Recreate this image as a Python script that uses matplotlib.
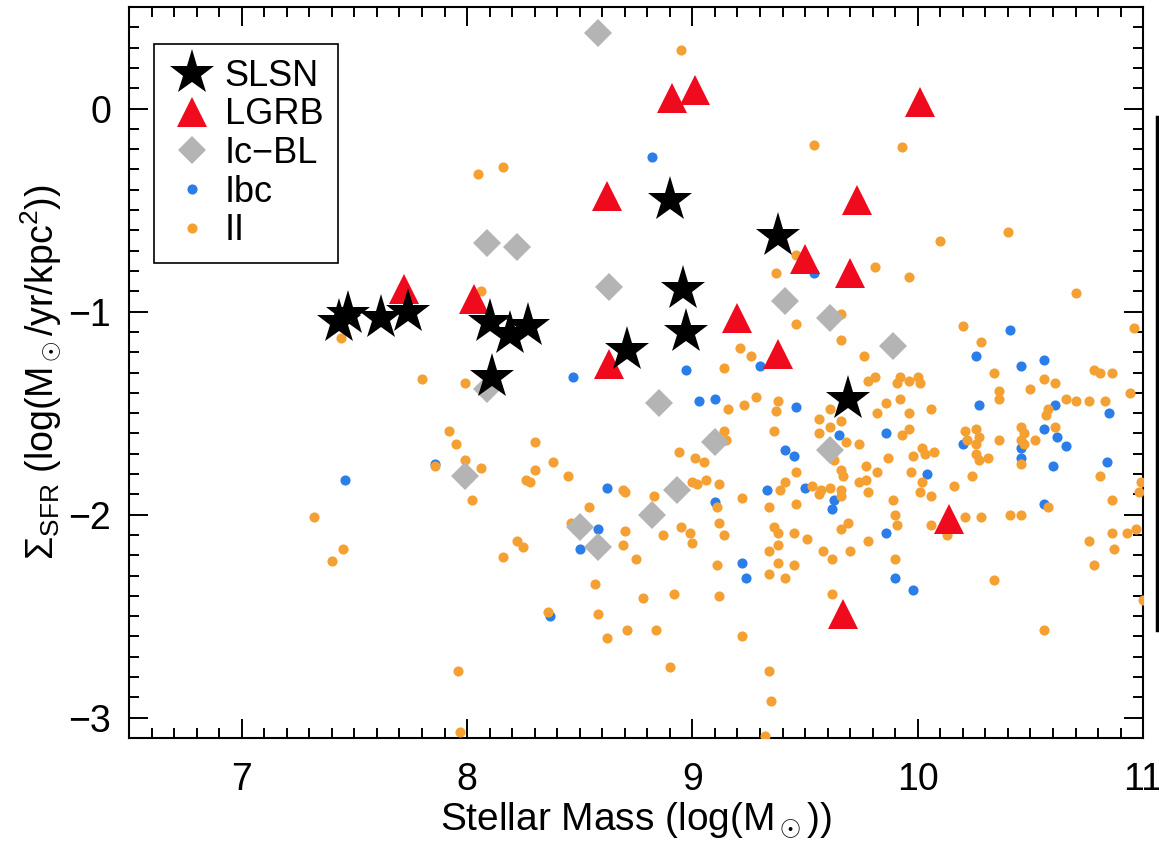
import matplotlib
matplotlib.use("Agg")
import matplotlib.pyplot as plt
from matplotlib.lines import Line2D

plt.rcParams['font.family'] = ['Liberation Sans', 'DejaVu Sans']
plt.rcParams['mathtext.fontset'] = 'custom'
plt.rcParams['mathtext.rm'] = 'Liberation Sans'
plt.rcParams['mathtext.it'] = 'Liberation Sans:italic'

# SLSN hosts
slsn_mass = [7.47, 7.43, 7.62, 7.74, 8.10, 8.19, 8.27, 8.11, 8.71, 8.90, 8.96, 8.97, 9.38, 9.69]
slsn_sfr = [-1.01, -1.05, -1.03, -1.00, -1.05, -1.11, -1.07, -1.32, -1.19, -0.45, -0.89, -1.10, -0.63, -1.43]

# LGRB hosts
lgrb_mass = [7.72, 8.03, 8.62, 8.63, 8.91, 9.01, 9.20, 9.38, 9.50, 9.70, 9.73, 10.01, 10.14, 9.67]
lgrb_sfr = [-0.89, -0.94, -0.43, -1.26, 0.05, 0.09, -1.03, -1.21, -0.74, -0.81, -0.45, 0.03, -2.02, -2.49]

# Ic-BL hosts
icbl_mass = [8.58, 8.09, 8.22, 8.63, 9.41, 9.61, 9.89, 8.09, 8.85, 9.10, 9.61, 7.99, 8.93, 8.82, 8.50, 8.58]
icbl_sfr = [0.37, -0.66, -0.68, -0.88, -0.95, -1.03, -1.17, -1.38, -1.45, -1.64, -1.68, -1.81, -1.88, -2.00, -2.06, -2.16]

# Ibc hosts
ibc_mass = [7.86, 7.46, 8.47, 8.97, 9.30, 9.03, 9.10, 9.46, 9.65, 9.86, 9.41, 9.45,
            9.33, 9.50, 9.63, 9.62, 8.62, 9.10, 8.58, 8.50, 9.86, 9.90, 9.22, 9.24,
            10.41, 10.26, 10.46, 10.56, 10.27, 10.61, 10.85, 10.20, 10.46, 10.56, 10.62, 10.66,
            10.46, 10.60, 10.84, 10.04, 10.56, 9.98, 8.82, 9.54, 8.37]
ibc_sfr = [-1.75, -1.83, -1.32, -1.29, -1.27, -1.44, -1.43, -1.47, -1.61, -1.60, -1.68, -1.71,
           -1.88, -1.87, -1.93, -1.97, -1.87, -1.94, -2.07, -2.17, -2.09, -2.31, -2.24, -2.31,
           -1.09, -1.22, -1.27, -1.24, -1.46, -1.46, -1.50, -1.65, -1.67, -1.58, -1.62, -1.66,
           -1.72, -1.76, -1.74, -1.80, -1.95, -2.37, -0.24, -0.81, -2.50]

# type II hosts
ii_mass = [7.44, 7.80, 7.99, 8.06, 7.92, 7.95, 7.99, 7.86, 8.06, 8.02, 8.26, 7.32,
           9.46, 9.66, 9.66, 9.21, 9.26, 9.14, 9.76, 9.78, 9.81, 9.91, 9.28, 9.23,
           9.16, 9.38, 9.37, 9.61, 9.86, 9.82, 9.56, 9.61, 9.66, 9.56, 9.68, 9.74,
           9.36, 9.14, 9.15, 8.30, 8.94, 9.01, 9.05, 9.87, 9.46, 9.63, 9.66, 9.67,
           9.77, 9.82, 9.74, 9.77, 8.38, 8.30, 8.28, 8.45, 9.00, 9.02, 9.06, 9.12,
           9.41, 9.39, 9.53, 9.56, 9.57, 9.61, 9.66, 9.66, 9.78, 9.69, 9.66, 9.89,
           9.90, 9.91, 8.69, 8.70, 8.83, 9.11, 9.22, 9.34, 9.46, 8.54, 9.12, 8.95,
           8.99, 9.00, 9.14, 8.87, 8.70, 8.69, 8.46, 8.22, 8.25, 8.16, 8.75, 9.36,
           9.38, 9.45, 9.51, 9.38, 9.34, 9.58, 9.62, 9.70, 9.78, 9.90, 9.11, 9.34,
           9.38, 9.41, 9.45, 8.57, 9.62, 8.92, 9.12, 8.78,
           10.20, 10.28, 10.34, 10.56, 10.61, 10.50, 10.36, 10.36, 10.58, 10.57, 10.66, 10.70,
           10.76, 10.83, 10.78, 10.81, 10.86, 10.96, 10.94, 9.92, 9.96, 10.00, 10.01, 9.92,
           9.96, 10.06, 9.93, 9.96, 10.21, 10.26, 10.22, 10.27, 10.26, 10.36, 10.46, 10.47,
           10.46, 10.52, 10.47, 10.61, 10.02, 10.03, 10.07, 9.98, 10.26, 10.27, 10.31, 10.46,
           9.97, 10.24, 10.81, 10.02, 10.99, 10.01, 10.06, 10.16, 10.98, 10.86, 10.58, 10.06,
           10.21, 10.28, 10.41, 10.46, 10.13, 10.76, 10.86, 10.93, 10.97, 10.87, 10.78, 10.34,
           10.56, 11.00, 8.95, 9.54, 9.93, 9.46, 9.37, 9.81, 9.96, 10.10, 10.40, 10.70,
           8.05, 8.16, 7.45, 7.40, 7.96, 7.97, 9.35, 9.32,
           8.36, 8.58, 8.62, 8.71, 8.84, 8.90, 9.22, 9.34]
ii_sfr = [-1.13, -1.33, -1.35, -0.90, -1.59, -1.65, -1.73, -1.76, -1.77, -1.93, -1.83, -2.01,
          -1.06, -1.01, -1.14, -1.18, -1.22, -1.28, -1.22, -1.34, -1.32, -1.35, -1.42, -1.46,
          -1.48, -1.44, -1.49, -1.48, -1.45, -1.50, -1.53, -1.57, -1.54, -1.60, -1.64, -1.65,
          -1.59, -1.59, -1.63, -1.64, -1.69, -1.72, -1.74, -1.72, -1.79, -1.73, -1.78, -1.81,
          -1.76, -1.79, -1.84, -1.83, -1.74, -1.78, -1.84, -1.81, -1.84, -1.85, -1.83, -1.85,
          -1.84, -1.88, -1.86, -1.90, -1.88, -1.87, -1.88, -1.91, -1.89, -2.04, -2.07, -1.93,
          -2.00, -2.05, -1.88, -1.89, -1.91, -1.96, -1.92, -1.96, -1.95, -1.96, -2.04, -2.06,
          -2.09, -2.14, -2.10, -2.10, -2.08, -2.15, -2.04, -2.13, -2.16, -2.21, -2.22, -2.06,
          -2.09, -2.09, -2.12, -2.15, -2.18, -2.18, -2.22, -2.18, -2.13, -2.22, -2.25, -2.29,
          -2.24, -2.31, -2.25, -2.34, -2.39, -2.39, -2.40, -2.41,
          -1.07, -1.15, -1.30, -1.33, -1.35, -1.38, -1.39, -1.43, -1.48, -1.51, -1.43, -1.44,
          -1.44, -1.44, -1.29, -1.30, -1.30, -1.08, -1.40, -1.32, -1.34, -1.32, -1.35, -1.43,
          -1.50, -1.48, -1.61, -1.58, -1.59, -1.58, -1.63, -1.62, -1.65, -1.63, -1.57, -1.60,
          -1.63, -1.63, -1.65, -1.57, -1.67, -1.70, -1.69, -1.71, -1.70, -1.73, -1.72, -1.75,
          -1.79, -1.81, -1.81, -1.84, -1.84, -1.89, -1.91, -1.86, -1.89, -1.93, -1.96, -2.05,
          -2.01, -2.01, -2.00, -2.00, -2.10, -2.13, -2.09, -2.09, -2.07, -2.17, -2.25, -2.32,
          -2.57, -2.42, 0.29, -0.18, -0.19, -0.72, -0.81, -0.78, -0.83, -0.65, -0.61, -0.91,
          -0.32, -0.29, -2.17, -2.23, -2.77, -3.07, -2.92, -3.09,
          -2.48, -2.49, -2.61, -2.57, -2.57, -2.75, -2.60, -2.77]

fig = plt.figure(figsize=(11.59, 8.47), dpi=100)
ax = fig.add_axes([0.1113, 0.1287, 0.875, 0.863])

ax.plot(ibc_mass, ibc_sfr, 'o', color='#2b7de9', ms=7.3, mew=0, label='Ibc', zorder=2)
ax.plot(ii_mass, ii_sfr, 'o', color='#f5a033', ms=7.3, mew=0, label='II', zorder=3)
ax.plot(icbl_mass, icbl_sfr, 'D', color='#b4b4b4', ms=14, mew=0, label='Ic\u2212BL', zorder=4)
ax.plot(lgrb_mass, lgrb_sfr, '^', color='#f00a1e', ms=22, mew=0, label='LGRB', zorder=5)
ax.plot(slsn_mass, slsn_sfr, '*', color='black', ms=34, mew=0, label='SLSN', zorder=6)

ax.set_xlim(6.5, 11)
ax.set_ylim(-3.1, 0.5)
ax.set_xticks([7, 8, 9, 10, 11])
ax.set_yticks([-3, -2, -1, 0])
ax.set_yticklabels(['\u22123', '\u22122', '\u22121', '0'])
ax.xaxis.set_minor_locator(matplotlib.ticker.MultipleLocator(0.1))
ax.yaxis.set_minor_locator(matplotlib.ticker.MultipleLocator(0.1))
ax.tick_params(which='both', direction='in', top=True, right=True, width=1.4)
ax.tick_params(which='major', length=14, labelsize=27)
ax.tick_params(which='minor', length=7)
ax.tick_params(axis='x', which='major', pad=17)
ax.tick_params(axis='y', which='major', pad=13)
for sp in ax.spines.values():
    sp.set_linewidth(1.5)

ax.set_xlabel(r'Stellar Mass (log(M$_\odot$))', fontsize=28, labelpad=2)
ax.set_ylabel(r'$\Sigma_{\rm SFR}$ (log(M$_\odot$/yr/kpc$^2$))', fontsize=27, labelpad=4)

handles, labels = ax.get_legend_handles_labels()
order = [4, 3, 2, 0, 1]
leg = ax.legend([handles[i] for i in order], [labels[i] for i in order],
                loc='upper left', bbox_to_anchor=(0.025, 0.949), borderaxespad=0,
                fontsize=26, fancybox=False, edgecolor='black', framealpha=1,
                handlelength=1.3, handletextpad=0.25, labelspacing=0.1,
                borderpad=0.4, numpoints=1)
leg.get_frame().set_linewidth(1.2)

# stray edge line at right of the panel
fig.add_artist(Line2D([0.9985, 0.9985], [1 - 117 / 847, 1 - 630 / 847],
                      transform=fig.transFigure, color='black', lw=2.5))

fig.savefig('out.png', dpi=100)
